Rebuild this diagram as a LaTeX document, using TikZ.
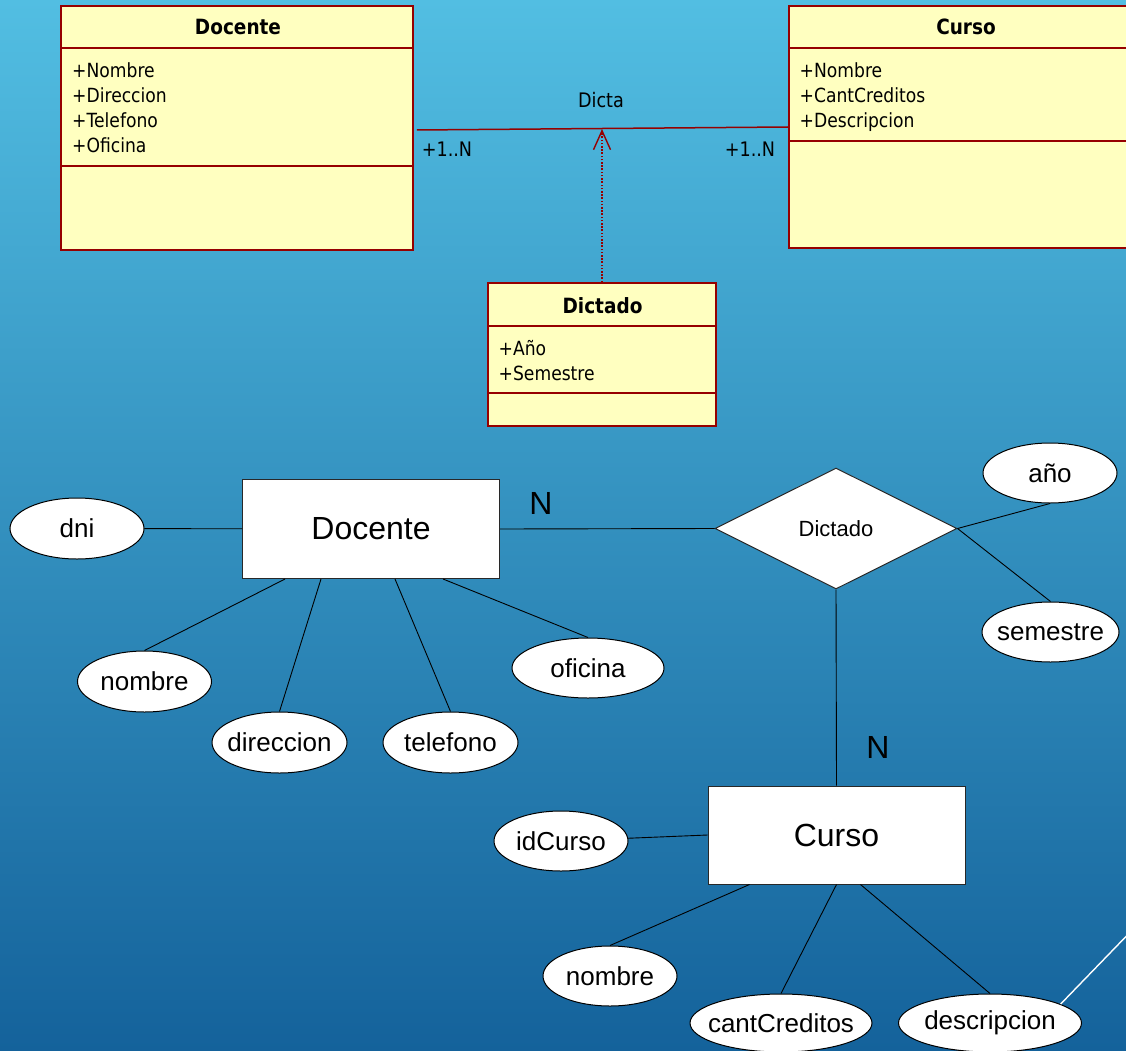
\documentclass[tikz,border=0pt]{standalone}
\usepackage{fontspec}
\setmainfont{Liberation Sans}
\newfontfamily\umlfont[FakeStretch=0.88]{DejaVu Sans}
\usetikzlibrary{shapes.geometric,arrows.meta,calc}
\definecolor{umlfill}{RGB}{255,255,192}
\definecolor{umlline}{RGB}{150,0,0}
\definecolor{bgtop}{RGB}{82,190,226}
\definecolor{bgbot}{RGB}{20,98,155}
\definecolor{erline}{RGB}{40,40,40}
\newcommand{\zw}[1]{\makebox[0pt]{#1}}
\begin{document}
\begin{tikzpicture}[x=1pt,y=-1pt,
  umlbox/.style={rectangle,draw=umlline,line width=1.8pt,fill=umlfill,inner sep=0pt},
  umltitle/.style={font={\umlfont\bfseries\fontsize{21}{24}\selectfont},inner sep=0pt,anchor=base},
  umlattr/.style={font={\umlfont\fontsize{19.5}{23}\selectfont},inner sep=0pt,anchor=base west},
  umllabel/.style={font={\umlfont\fontsize{20}{23}\selectfont},inner sep=0pt,anchor=base},
  umlsep/.style={draw=umlline,line width=1.8pt},
  entity/.style={rectangle,draw=erline,fill=white,line width=1pt,inner sep=0pt,font={\fontsize{32}{38}\selectfont}},
  attr/.style={ellipse,draw=black,fill=white,line width=1pt,inner sep=0pt,font={\fontsize{26}{30}\selectfont}},
  rel/.style={diamond,draw=erline,fill=white,line width=1pt,inner sep=0pt,minimum width=242pt,minimum height=121pt,font={\fontsize{22}{26}\selectfont}},
  card/.style={font={\fontsize{32}{38}\selectfont},inner sep=0pt},
  conn/.style={draw=black,line width=0.9pt},
]
\useasboundingbox (0,0) rectangle (1126,1051);
\clip (0,0) rectangle (1126,1051);
\fill[top color=bgtop,bottom color=bgbot] (0,0) rectangle (1126,1051);

% ---------- UML part ----------
\node[umlbox,minimum width=352pt,minimum height=244pt] (dU) at (237,128) {};
\node[umltitle] (dUt) at (238,35) {Docente};
\draw[umlsep] ($(dU.north west)+(0,43)$) -- ($(dU.north east)+(0,43)$);
\draw[umlsep] ($(dU.north west)+(0,161)$) -- ($(dU.north east)+(0,161)$);
\node[umlattr] (dUa1) at (72,77.5) {+Nombre};
\node[umlattr] (dUa2) at (72,103) {+Direccion};
\node[umlattr] (dUa3) at (72,128) {+Telefono};
\node[umlattr] (dUa4) at (72,152.5) {+Oficina};

\node[umlbox,minimum width=354pt,minimum height=242pt] (cU) at (966,127) {};
\node[umltitle] (cUt) at (966,35) {Curso};
\draw[umlsep] ($(cU.north west)+(0,43)$) -- ($(cU.north east)+(0,43)$);
\draw[umlsep] ($(cU.north west)+(0,136)$) -- ($(cU.north east)+(0,136)$);
\node[umlattr] (cUa1) at (799.5,77.5) {+Nombre};
\node[umlattr] (cUa2) at (799.5,103) {+CantCreditos};
\node[umlattr] (cUa3) at (799.5,128) {+Descripcion};

\node[umlbox,minimum width=228pt,minimum height=143pt] (tU) at (602,354.5) {};
\node[umltitle] (tUt) at (602.5,313) {Dictado};
\draw[umlsep] ($(tU.north west)+(0,44)$) -- ($(tU.north east)+(0,44)$);
\draw[umlsep] ($(tU.north west)+(0,111)$) -- ($(tU.north east)+(0,111)$);
\node[umlattr] (tUa1) at (498.5,355) {+Año};
\node[umlattr] (tUa2) at (498.5,380) {+Semestre};

\draw[umlsep,line width=1.5pt] ($(dU.east)+(3,2)$) -- (cU.west);
\coordinate (tip) at (602,129);
\draw[umlline,line width=1.4pt,dash pattern=on 1.6pt off 1.6pt,
  -{Straight Barb[length=19pt,width=17pt,line width=1.4pt]}] (tU.north) -- (tip);
\node[umllabel] (lDicta) at (601,108) {Dicta};
\node[umllabel] (lL) at (447,157) {+1..N};
\node[umllabel] (lR) at (750,157) {+1..N};

% ---------- ER part ----------
\node[entity,minimum width=257pt,minimum height=99pt] (doc) at (371,529) {Docente};
\node[attr,minimum width=134pt,minimum height=61pt] (dni) at (77,528.5) {\zw{dni}};
\node[attr,minimum width=134pt,minimum height=61pt] (nom) at (144.5,681.5) {\zw{nombre}};
\node[attr,minimum width=135pt,minimum height=61pt] (dir) at (279.5,742.5) {\zw{direccion}};
\node[attr,minimum width=135pt,minimum height=61pt] (tel) at (450.5,742.5) {\zw{telefono}};
\node[attr,minimum width=152pt,minimum height=60pt] (ofi) at (588,668) {\zw{oficina}};

\node[rel] (dict) at (836,528.5) {Dictado};
\node[attr,minimum width=134pt,minimum height=60pt] (anio) at (1050,473) {\zw{año}};
\node[attr,minimum width=137pt,minimum height=60pt] (sem) at (1050.5,632) {\zw{semestre}};

\node[entity,minimum width=257pt,minimum height=98pt] (cur) at (836.5,835) {Curso};
\node[attr,minimum width=134pt,minimum height=60pt] (idc) at (561,841) {\zw{idCurso}};
\node[attr,minimum width=134pt,minimum height=60pt] (nom2) at (610,976) {\zw{nombre}};
\node[attr,minimum width=182pt,minimum height=58pt] (cant) at (781,1023) {\zw{cantCreditos}};
\node[attr,minimum width=183pt,minimum height=58pt] (desc) at (990,1023) {\zw{descripcion}};

\node[card] (n1) at (541,503) {N};
\node[card] (n2) at (878,747) {N};

\begin{scope}[on background layer/.try]
\end{scope}
\draw[conn] (dni) -- (doc);
\draw[conn] ($(doc.south west)+(43,0)$) -- (nom.north);
\draw[conn] ($(doc.south west)+(79,0)$) -- (dir.north);
\draw[conn] ($(doc.south west)+(153,0)$) -- (tel.north);
\draw[conn] ($(doc.south west)+(201,0)$) -- (ofi.north);
\draw[conn] (doc.east) -- (dict.west);
\draw[conn] (dict.east) -- (anio.south);
\draw[conn] (dict.east) -- (sem.north);
\draw[conn] (dict.south) -- (cur.north);
\draw[conn] (idc) -- (cur.west);
\draw[conn] ($(cur.south west)+(42,0)$) -- (nom2.north);
\draw[conn] (cur.south) -- (cant.north);
\draw[conn] ($(cur.south west)+(153,0)$) -- (desc.north);
\coordinate (wEnd) at (1140,922);
\draw[white,line width=1.4pt] (desc.15) -- (wEnd);
\end{tikzpicture}
\end{document}
